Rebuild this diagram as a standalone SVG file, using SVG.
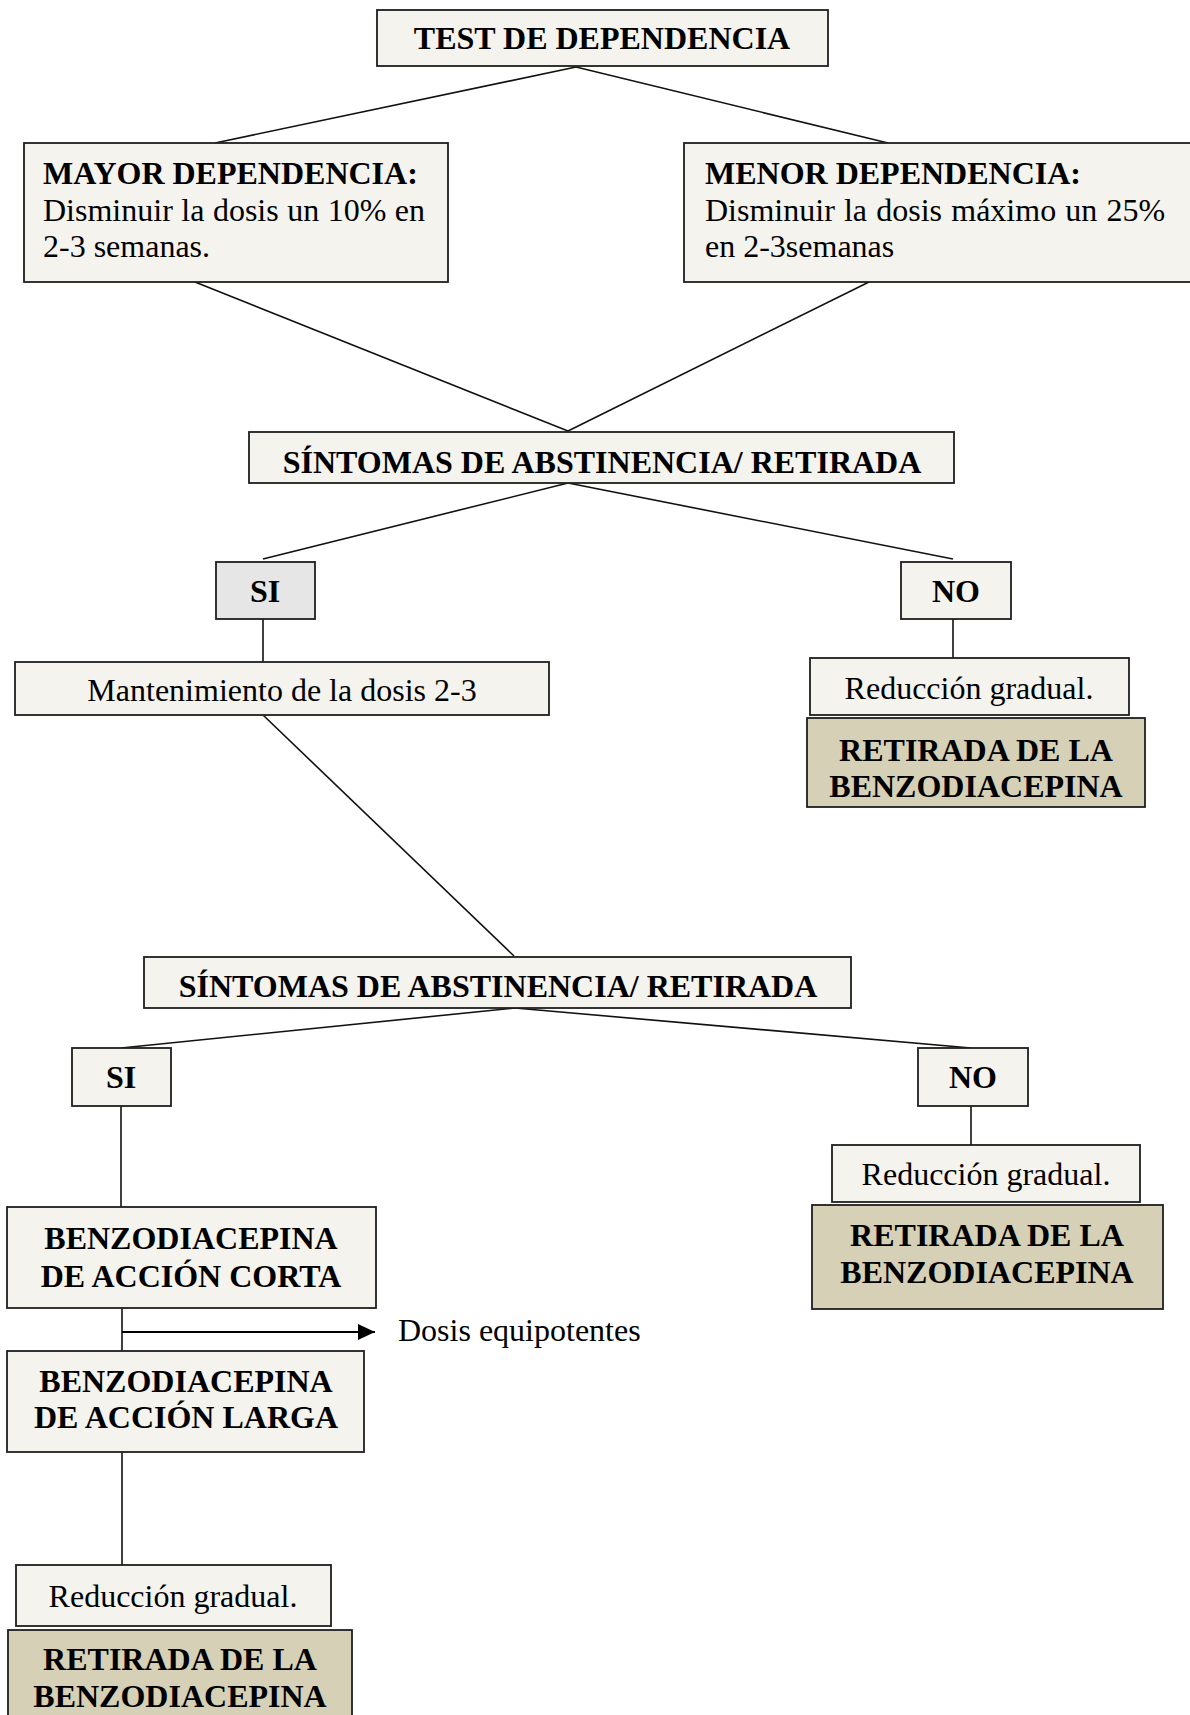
<svg xmlns="http://www.w3.org/2000/svg" width="1190" height="1715" viewBox="0 0 1190 1715">
<style>
.box{fill:#f4f3ee;stroke:#1e1e1e;stroke-width:1.8}
.gray{fill:#e6e6e6;stroke:#1e1e1e;stroke-width:1.8}
.tan{fill:#d5d0b6;stroke:#1e1e1e;stroke-width:1.8}
.b{font-family:"Liberation Serif","Times New Roman",serif;font-weight:bold;font-size:32px;fill:#000}
.r{font-family:"Liberation Serif","Times New Roman",serif;font-size:32px;fill:#000}
.c{text-anchor:middle}
.ln{stroke:#111;stroke-width:1.6;fill:none}
</style>
<defs>
<marker id="ah" markerWidth="17" markerHeight="16" refX="17" refY="8" orient="auto" markerUnits="userSpaceOnUse" viewBox="0 0 17 16">
<path d="M0,0 L17,8 L0,16 Z" fill="#000"/>
</marker>
</defs>
<rect width="1190" height="1715" fill="#fff"/>
<g id="connectors">
<line class="ln" x1="576" y1="67" x2="215" y2="143"/>
<line class="ln" x1="576" y1="67" x2="888" y2="143"/>
<line class="ln" x1="195" y1="282" x2="568" y2="431"/>
<line class="ln" x1="869" y1="282" x2="568" y2="431"/>
<line class="ln" x1="568" y1="483" x2="263" y2="559"/>
<line class="ln" x1="568" y1="483" x2="953" y2="559"/>
<line class="ln" x1="263" y1="619" x2="263" y2="662"/>
<line class="ln" x1="953" y1="619" x2="953" y2="658"/>
<line class="ln" x1="263" y1="715" x2="514" y2="956"/>
<line class="ln" x1="515" y1="1008" x2="121" y2="1048"/>
<line class="ln" x1="515" y1="1008" x2="971" y2="1048"/>
<line class="ln" x1="121" y1="1106" x2="121" y2="1207"/>
<line class="ln" x1="971" y1="1106" x2="971" y2="1145"/>
<line class="ln" x1="122" y1="1308" x2="122" y2="1351"/>
<line x1="122" y1="1332" x2="375" y2="1332" stroke="#000" stroke-width="2.2" marker-end="url(#ah)"/>
<line class="ln" x1="122" y1="1452" x2="122" y2="1565"/>
</g>
<g id="test">
<rect class="box" x="377" y="10" width="451" height="56"/>
<text class="b c" x="602" y="49">TEST DE DEPENDENCIA</text>
</g>
<g id="mayor">
<rect class="box" x="24" y="143" width="424" height="139"/>
<text class="b" x="43" y="184">MAYOR DEPENDENCIA:</text>
<text class="r" x="43" y="221" word-spacing="0.5">Disminuir la dosis un 10% en</text>
<text class="r" x="43" y="257">2-3 semanas.</text>
</g>
<g id="menor">
<rect class="box" x="684" y="143" width="510" height="139"/>
<text class="b" x="705" y="184">MENOR DEPENDENCIA:</text>
<text class="r" x="705" y="221" word-spacing="1.2">Disminuir la dosis máximo un 25%</text>
<text class="r" x="705" y="257">en 2-3semanas</text>
</g>
<g id="sintomas1">
<rect class="box" x="249" y="432" width="705" height="51"/>
<text class="b c" x="602" y="473">SÍNTOMAS DE ABSTINENCIA/ RETIRADA</text>
</g>
<g id="si1">
<rect class="gray" x="216" y="562" width="99" height="57"/>
<text class="b c" x="265" y="602">SI</text>
</g>
<g id="no1">
<rect class="box" x="901" y="562" width="110" height="57"/>
<text class="b c" x="956" y="602">NO</text>
</g>
<g id="mantenimiento">
<rect class="box" x="15" y="662" width="534" height="53"/>
<text class="r c" x="282" y="701">Mantenimiento de la dosis 2-3</text>
</g>
<g id="reduccion1">
<rect class="box" x="810" y="658" width="319" height="57"/>
<text class="r c" x="969" y="699">Reducción gradual.</text>
</g>
<g id="retirada1">
<rect class="tan" x="807" y="718" width="338" height="89"/>
<text class="b c" x="976" y="761">RETIRADA DE LA</text>
<text class="b c" x="976" y="797">BENZODIACEPINA</text>
</g>
<g id="sintomas2">
<rect class="box" x="144" y="957" width="707" height="51"/>
<text class="b c" x="498" y="997">SÍNTOMAS DE ABSTINENCIA/ RETIRADA</text>
</g>
<g id="si2">
<rect class="box" x="72" y="1048" width="99" height="58"/>
<text class="b c" x="121" y="1088">SI</text>
</g>
<g id="no2">
<rect class="box" x="918" y="1048" width="110" height="58"/>
<text class="b c" x="973" y="1088">NO</text>
</g>
<g id="reduccion2">
<rect class="box" x="832" y="1145" width="308" height="57"/>
<text class="r c" x="986" y="1185">Reducción gradual.</text>
</g>
<g id="retirada2">
<rect class="tan" x="812" y="1205" width="351" height="104"/>
<text class="b c" x="987" y="1246">RETIRADA DE LA</text>
<text class="b c" x="987" y="1283">BENZODIACEPINA</text>
</g>
<g id="corta">
<rect class="box" x="7" y="1207" width="369" height="101"/>
<text class="b c" x="191" y="1249">BENZODIACEPINA</text>
<text class="b c" x="191" y="1287">DE ACCIÓN CORTA</text>
</g>
<g id="dosis">
<text class="r" x="398" y="1341">Dosis equipotentes</text>
</g>
<g id="larga">
<rect class="box" x="7" y="1351" width="357" height="101"/>
<text class="b c" x="186" y="1392">BENZODIACEPINA</text>
<text class="b c" x="186" y="1428">DE ACCIÓN LARGA</text>
</g>
<g id="reduccion3">
<rect class="box" x="16" y="1565" width="315" height="61"/>
<text class="r c" x="173" y="1607">Reducción gradual.</text>
</g>
<g id="retirada3">
<rect class="tan" x="8" y="1630" width="344" height="100"/>
<text class="b c" x="180" y="1670">RETIRADA DE LA</text>
<text class="b c" x="180" y="1707">BENZODIACEPINA</text>
</g>
</svg>
